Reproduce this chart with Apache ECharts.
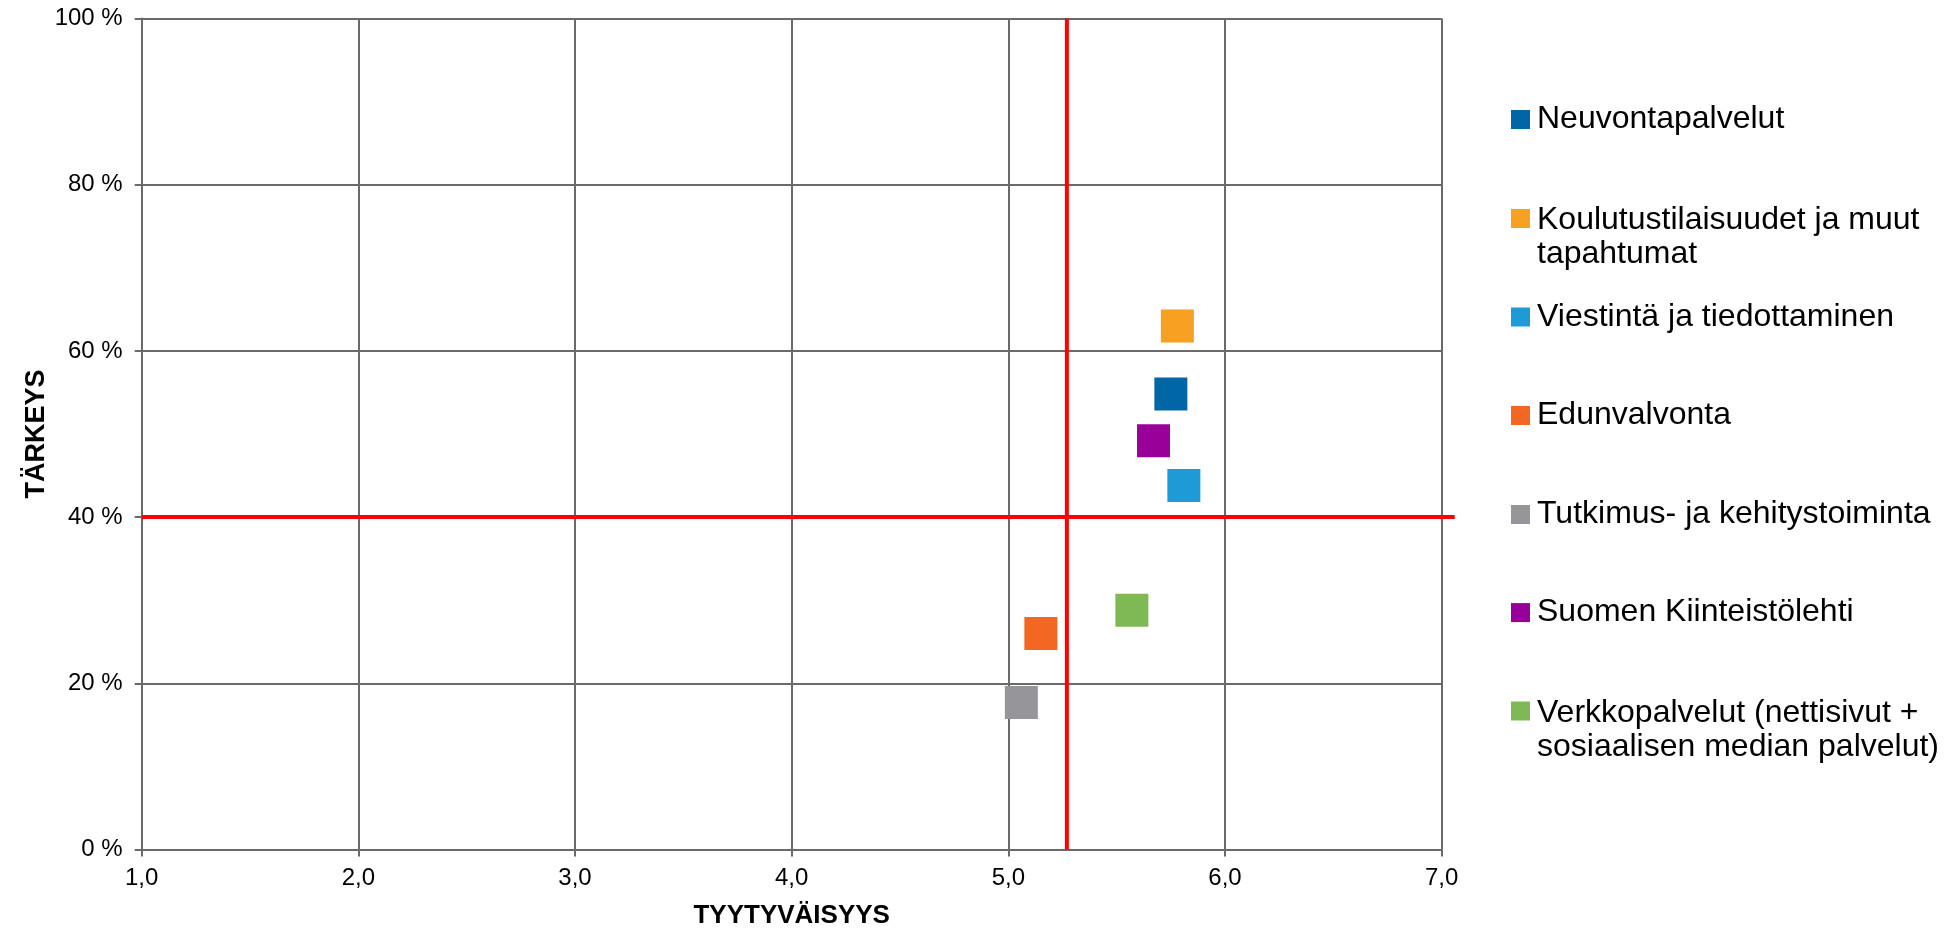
<!DOCTYPE html>
<html>
<head>
<meta charset="utf-8">
<script src="https://cdn.jsdelivr.net/npm/echarts@6/dist/echarts.min.js"></script>
<style>
html,body{margin:0;padding:0;background:#fff;}
#chart{width:1958px;height:929px;}
</style>
</head>
<body>
<div id="chart"></div>
<script>
// ---- data ----
const names = [
  'Neuvontapalvelut',
  'Koulutustilaisuudet ja muut\ntapahtumat',
  'Viestintä ja tiedottaminen',
  'Edunvalvonta',
  'Tutkimus- ja kehitystoiminta',
  'Suomen Kiinteistölehti',
  'Verkkopalvelut (nettisivut +\nsosiaalisen median palvelut)'
];
const tyytyvaisyys = [5.75, 5.78, 5.81, 5.15, 5.06, 5.67, 5.57];
const tarkeys = [54.8, 63.0, 43.8, 26.0, 17.7, 49.2, 28.8];
const colors = ['#0066A6', '#F7A021', '#1E9AD6', '#F26722', '#96969A', '#990099', '#7EB956'];
const refX = 5.27;   // red vertical reference line (TYYTYVÄISYYS)
const refY = 40;     // red horizontal reference line (TÄRKEYS, %)
const refHEnd = 7.06; // horizontal reference line runs slightly past the plot edge
const xTicks = [1, 2, 3, 4, 5, 6, 7];
const yTicks = [0, 20, 40, 60, 80, 100];

// ---- layout ----
const legendCenters = [119.5, 218.5, 317, 415.5, 514.5, 612.6, 711];
const font = 'Liberation Sans, Arial, sans-serif';
const gridColor = '#6a6a6a';

const chart = echarts.init(document.getElementById('chart'), null, {renderer: 'canvas'});

const scatterSeries = names.map((n, i) => ({
  name: n,
  type: 'scatter',
  symbol: 'rect',
  symbolSize: 33,
  itemStyle: {color: colors[i], opacity: 1},
  emphasis: {disabled: true},
  z: 5,
  data: [[tyytyvaisyys[i], tarkeys[i]]]
}));

// reference lines: [x1, y1, x2, y2]
const refLines = [
  [xTicks[0], refY, refHEnd, refY],
  [refX, yTicks[0], refX, yTicks[yTicks.length - 1]]
];

const refSeries = [{
  type: 'custom',
  name: 'ref',
  clip: false,
  silent: true,
  z: 3,
  data: refLines,
  encode: {x: [0, 2], y: [1, 3]},
  renderItem: (params, api) => {
    const p1 = api.coord([api.value(0), api.value(1)]);
    const p2 = api.coord([api.value(2), api.value(3)]);
    return {
      type: 'line',
      shape: {x1: p1[0], y1: p1[1], x2: p2[0], y2: p2[1]},
      style: {stroke: '#FF0000', lineWidth: 4}
    };
  }
}];

const baseText = {fontFamily: font, fontSize: 32, color: '#000'};

const legends = names.map((n, i) => {
  const twoLine = n.indexOf('\n') >= 0;
  const leg = {
    orient: 'vertical',
    left: 1511,
    top: twoLine ? legendCenters[i] - 54 : legendCenters[i] - 18,
    padding: 0,
    itemWidth: 19,
    itemHeight: 19,
    icon: 'rect',
    selectedMode: false,
    data: [n],
    textStyle: Object.assign({lineHeight: 36, padding: [0, 0, 0, 2]}, baseText)
  };
  if (twoLine) {
    leg.formatter = name => {
      const parts = name.split('\n');
      return '{l1|' + parts[0] + '}\n{l2|' + parts[1] + '}';
    };
    leg.textStyle.rich = {
      l1: Object.assign({lineHeight: 72, verticalAlign: 'bottom'}, baseText),
      l2: Object.assign({lineHeight: 36}, baseText)
    };
  }
  return leg;
});

chart.setOption({
  animation: false,
  backgroundColor: '#fff',
  grid: {
    left: 141.7, right: 516.3, top: 18.5, bottom: 79.5,
    containLabel: false, outerBoundsMode: 'none'
  },
  legend: legends,
  xAxis: {
    type: 'value',
    min: xTicks[0], max: xTicks[xTicks.length - 1], interval: 1,
    name: 'TYYTYVÄISYYS',
    nameLocation: 'middle',
    nameGap: 53,
    nameMoveOverlap: false,
    nameTextStyle: {fontFamily: font, fontSize: 26, fontWeight: 'bold', color: '#000'},
    axisLine: {show: true, lineStyle: {color: gridColor, width: 2}},
    axisTick: {show: true, length: 7, lineStyle: {color: gridColor, width: 2}},
    axisLabel: {
      fontFamily: font, fontSize: 24, color: '#000', margin: 17,
      formatter: v => v.toFixed(1).replace('.', ',')
    },
    splitLine: {show: true, lineStyle: {color: gridColor, width: 2}}
  },
  yAxis: {
    type: 'value',
    min: yTicks[0], max: yTicks[yTicks.length - 1], interval: 20,
    name: 'TÄRKEYS',
    nameLocation: 'middle',
    nameGap: 92,
    nameRotate: 90,
    nameMoveOverlap: false,
    nameTextStyle: {fontFamily: font, fontSize: 27, fontWeight: 'bold', color: '#000'},
    axisLine: {show: true, lineStyle: {color: gridColor, width: 2}},
    axisTick: {show: true, length: 7, lineStyle: {color: gridColor, width: 2}},
    axisLabel: {
      fontFamily: font, fontSize: 24, color: '#000', margin: 19,
      formatter: v => v + ' %'
    },
    splitLine: {show: true, lineStyle: {color: gridColor, width: 2}}
  },
  series: refSeries.concat(scatterSeries)
});
</script>
</body>
</html>
